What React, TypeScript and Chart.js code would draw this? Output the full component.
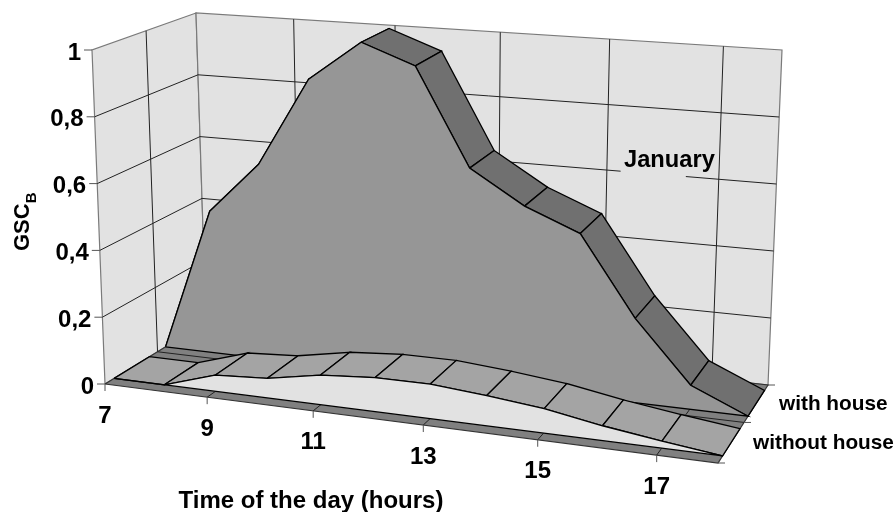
import React, { useEffect, useRef } from "react";
import { Chart, registerables } from "chart.js";

Chart.register(...registerables);

// ---- data ----
const hours = [7, 8, 9, 10, 11, 12, 13, 14, 15, 16, 17, 18];
const withHouse = [0, 0.44, 0.6, 0.875, 1.0, 0.94, 0.645, 0.546, 0.48, 0.247, 0.07, 0];
const withoutHouse = [0, 0, 0.048, 0.058, 0.087, 0.099, 0.1, 0.087, 0.07, 0.042, 0.02, 0];
const yTicks = [0, 0.2, 0.4, 0.6, 0.8, 1];
const yTickLabels = ["0", "0,2", "0,4", "0,6", "0,8", "1"];
const xTicks = [7, 9, 11, 13, 15, 17];
const depthLabels = ["with house", "without house"];
const xTitle = "Time of the day (hours)";
const yTitle = "GSC";
const yTitleSub = "B";
const note = "January";

// ---- projection of the 3-D box onto the page ----
type P = [number, number];
function bilinear(p0: P, p1: P, p2: P, p3: P) {
  return (u: number, v: number): P => [
    (1 - v) * ((1 - u) * p0[0] + u * p1[0]) + v * ((1 - u) * p3[0] + u * p2[0]),
    (1 - v) * ((1 - u) * p0[1] + u * p1[1]) + v * ((1 - u) * p3[1] + u * p2[1]),
  ];
}
const floorMap = bilinear([105, 384], [718, 463], [768, 385], [206, 322]);
const roofMap = bilinear([92, 50], [735, 101], [782, 50], [196, 13]);
const H0 = hours[0], H1 = hours[hours.length - 1];
const PERSPECTIVE = 0.9;
function proj(hour: number, depth: number, value: number) {
  const t = (hour - H0) / (H1 - H0);
  const u = (PERSPECTIVE * t) / (1 + (PERSPECTIVE - 1) * t);
  const a = floorMap(u, depth), b = roofMap(u, depth);
  return { x: a[0] + (b[0] - a[0]) * value, y: a[1] + (b[1] - a[1]) * value };
}

// depth positions on the floor
const BACK_FRONT = 0.6, BACK_REAR = 0.93, FRONT_FRONT = 0.09, FRONT_REAR = 0.44, MID = 0.52;

const WALL = "#e2e2e2", FLOOR = "#808080", EDGE = "#7a7a7a", GRID = "#222222";
const BACK_FACE = "#969696", BACK_TOP = "#707070", FRONT_FACE = "#e2e2e2", FRONT_TOP = "#a4a4a4";
const GAP_HOURS = [15.25, 16.42];

type Pt = { x: number; y: number };
function shape(data: Pt[], fillColor: string, line = "#000000", width = 1.3) {
  return {
    data,
    showLine: true,
    fill: "shape" as const,
    backgroundColor: fillColor,
    borderColor: line,
    borderWidth: width,
    pointRadius: 0,
    tension: 0,
    borderJoinStyle: "miter" as const,
    clip: false as const,
  };
}
function stroke(data: Pt[], line = GRID, width = 1) {
  return {
    data,
    showLine: true,
    fill: false as const,
    borderColor: line,
    borderWidth: width,
    pointRadius: 0,
    tension: 0,
    clip: false as const,
  };
}
function closed(points: Pt[]) {
  return [...points, points[0]];
}

function ribbon(values: number[], vFront: number, vRear: number, col: string) {
  return values.slice(0, -1).map((val, i) =>
    shape(
      closed([
        proj(hours[i], vFront, val),
        proj(hours[i + 1], vFront, values[i + 1]),
        proj(hours[i + 1], vRear, values[i + 1]),
        proj(hours[i], vRear, val),
      ]),
      col
    )
  );
}
function face(values: number[], v: number, col: string) {
  const top = values.map((val, i) => proj(hours[i], v, val));
  return shape(closed([...top, proj(H1, v, 0), proj(H0, v, 0)]), col);
}

function buildLayers() {
  const layers: any[] = [];
  // walls and floor
  layers.push(
    shape(closed([proj(H0, 0, 0), proj(H0, 0, 1), proj(H0, 1, 1), proj(H0, 1, 0)]), WALL, EDGE, 1.2)
  );
  layers.push(
    shape(closed([proj(H0, 1, 0), proj(H0, 1, 1), proj(H1, 1, 1), proj(H1, 1, 0)]), WALL, EDGE, 1.2)
  );
  layers.push(
    shape(closed([proj(H0, 0, 0), proj(H1, 0, 0), proj(H1, 1, 0), proj(H0, 1, 0)]), FLOOR, "#333333", 1.2)
  );
  // gridlines on the walls
  for (const t of yTicks.slice(1, -1)) {
    layers.push(stroke([proj(H0, 0, t), proj(H0, 1, t)]));
    const isGap = t === 0.6;
    if (isGap) {
      layers.push(stroke([proj(H0, 1, t), proj(GAP_HOURS[0], 1, t)]));
      layers.push(stroke([proj(GAP_HOURS[1], 1, t), proj(H1, 1, t)]));
    } else {
      layers.push(stroke([proj(H0, 1, t), proj(H1, 1, t)]));
    }
  }
  layers.push(stroke([proj(H0, MID, 0), proj(H0, MID, 1)]));
  for (const h of xTicks.slice(1)) {
    layers.push(stroke([proj(h, 1, 0), proj(h, 1, 1)]));
  }
  // gridlines on the floor
  layers.push(stroke([proj(H0, MID, 0), proj(H1, MID, 0)]));
  for (const h of xTicks.slice(1)) {
    layers.push(stroke([proj(h, 0, 0), proj(h, 1, 0)]));
  }
  // series, rear first
  layers.push(...ribbon(withHouse, BACK_FRONT, BACK_REAR, BACK_TOP));
  layers.push(face(withHouse, BACK_FRONT, BACK_FACE));
  layers.push(...ribbon(withoutHouse, FRONT_FRONT, FRONT_REAR, FRONT_TOP));
  layers.push(face(withoutHouse, FRONT_FRONT, FRONT_FACE));
  return layers;
}

const FONT = '"Liberation Sans", Arial, sans-serif';

const labelPlugin = {
  id: "boxLabels",
  afterDraw(chart: any) {
    const ctx: CanvasRenderingContext2D = chart.ctx;
    ctx.save();
    ctx.fillStyle = "#000000";
    // tick marks
    ctx.strokeStyle = "#555555";
    ctx.lineWidth = 1;
    const seg = (a: Pt, dx: number, dy: number) => {
      ctx.beginPath();
      ctx.moveTo(a.x, a.y);
      ctx.lineTo(a.x + dx, a.y + dy);
      ctx.stroke();
    };
    yTicks.forEach((t) => seg(proj(H0, 0, t), -8, 0));
    xTicks.forEach((h) => seg(proj(h, 0, 0), 0, 7));
    [0, MID, 1].forEach((v) => seg(proj(H1, v, 0), 7, 0));

    ctx.font = `bold 24px ${FONT}`;
    ctx.textBaseline = "middle";
    ctx.textAlign = "right";
    yTicks.forEach((t, i) => {
      const a = proj(H0, 0, t);
      ctx.fillText(yTickLabels[i], a.x - 11, a.y + 3);
    });
    ctx.textAlign = "center";
    xTicks.forEach((h) => {
      const a = proj(h, 0, 0);
      ctx.fillText(String(h), a.x, a.y + 32);
    });
    ctx.fillText(xTitle, 311, 501);
    ctx.textAlign = "left";
    ctx.font = `bold 23.7px ${FONT}`;
    ctx.fillText(note, 624, 160);

    ctx.font = `bold 20.8px ${FONT}`;
    ctx.fillText(depthLabels[0], 779, 404);
    ctx.fillText(depthLabels[1], 753, 443);

    // rotated title with subscript
    ctx.save();
    ctx.translate(29, 251);
    ctx.rotate(-Math.PI / 2);
    ctx.textAlign = "left";
    ctx.textBaseline = "alphabetic";
    ctx.font = `bold 22px ${FONT}`;
    ctx.fillText(yTitle, 0, 0);
    const w = ctx.measureText(yTitle).width;
    ctx.font = `bold 15px ${FONT}`;
    ctx.fillText(yTitleSub, w, 6.5);
    ctx.restore();
    ctx.restore();
  },
};

export default function App() {
  const ref = useRef<HTMLCanvasElement | null>(null);
  useEffect(() => {
    if (!ref.current) return;
    const layers = buildLayers().reverse();
    const chart = new Chart(ref.current, {
      type: "scatter",
      data: { datasets: layers },
      options: {
        animation: false,
        responsive: false,
        layout: { padding: 0 },
        plugins: { legend: { display: false }, tooltip: { enabled: false }, title: { display: false } },
        scales: {
          x: { type: "linear", min: 0, max: 895, display: false },
          y: { type: "linear", min: 0, max: 512, reverse: true, display: false },
        },
      },
      plugins: [labelPlugin],
    } as any);
    return () => chart.destroy();
  }, []);
  return (
    <div style={{ position: "absolute", left: 0, top: 0, width: 895, height: 512, background: "#fff" }}>
      <canvas ref={ref} width={895} height={512} style={{ display: "block" }} />
    </div>
  );
}
